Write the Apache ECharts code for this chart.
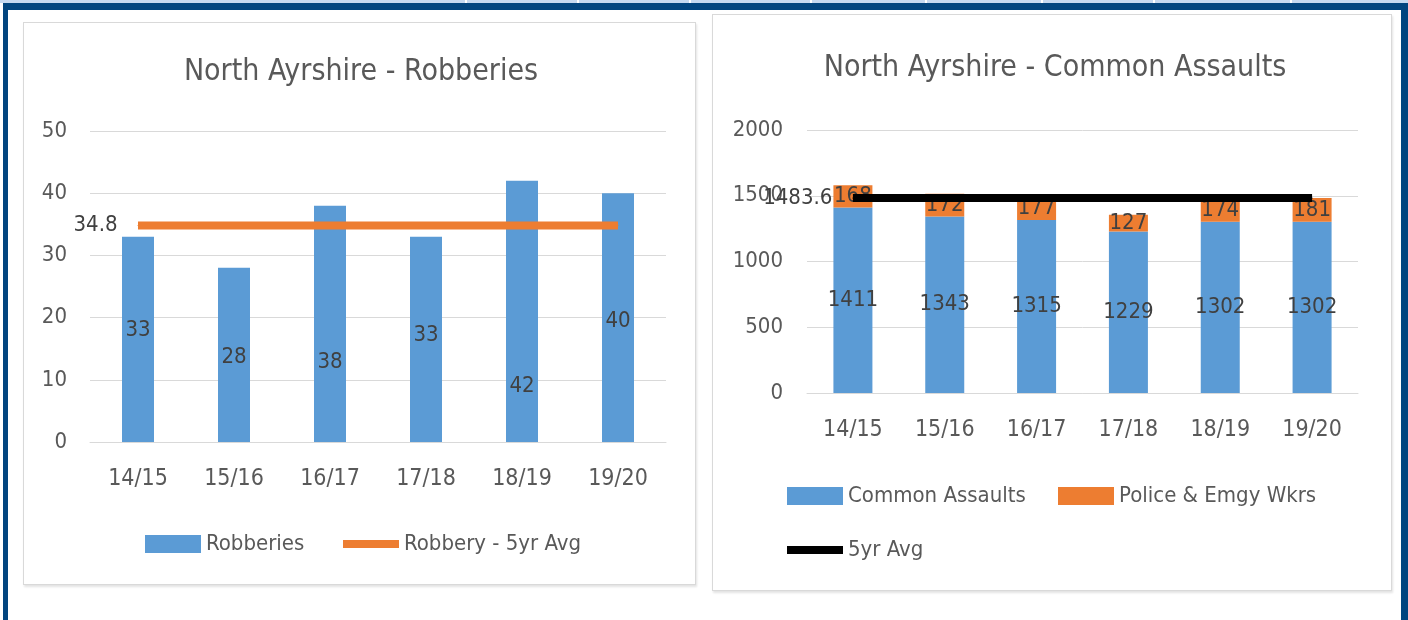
<!DOCTYPE html>
<html>
<head>
<meta charset="utf-8">
<script src="https://cdn.jsdelivr.net/npm/echarts@6/dist/echarts.min.js"></script>
<style>
  html, body { margin:0; padding:0; background:#fff; }
  #wrap { position:relative; width:1408px; height:620px; overflow:hidden; background:#fff; }
  .abs { position:absolute; }
  #chart { position:absolute; left:0; top:0; width:1408px; height:620px; }
</style>
</head>
<body>
<div id="wrap">
  <div class="abs" style="left:0;top:0;width:1408px;height:3px;background:#c6d9f0;"></div>
  <div class="abs" style="left:465px;top:0;width:2px;height:3px;background:#fff;"></div>
  <div class="abs" style="left:577px;top:0;width:2px;height:3px;background:#fff;"></div>
  <div class="abs" style="left:689px;top:0;width:2px;height:3px;background:#fff;"></div>
  <div class="abs" style="left:810px;top:0;width:2px;height:3px;background:#fff;"></div>
  <div class="abs" style="left:925px;top:0;width:2px;height:3px;background:#fff;"></div>
  <div class="abs" style="left:1041px;top:0;width:2px;height:3px;background:#fff;"></div>
  <div class="abs" style="left:1153px;top:0;width:2px;height:3px;background:#fff;"></div>
  <div class="abs" style="left:1290px;top:0;width:2px;height:3px;background:#fff;"></div>
  <div class="abs" style="left:3px;top:3px;width:1405px;height:7px;background:#02457f;"></div>
  <div class="abs" style="left:3px;top:3px;width:5px;height:617px;background:#02457f;"></div>
  <div class="abs" style="left:1401px;top:3px;width:7px;height:617px;background:#02457f;"></div>
  <div class="abs" style="left:23px;top:22px;width:671px;height:561px;border:1px solid #d9d9d9;box-shadow:1px 2px 2px #e4e4e4;"></div>
  <div class="abs" style="left:712px;top:14px;width:678px;height:575px;border:1px solid #d9d9d9;box-shadow:1px 2px 2px #e4e4e4;"></div>
  <div id="chart"></div>
</div>
<script>
const categories = ['14/15', '15/16', '16/17', '17/18', '18/19', '19/20'];
const robberies = [33, 28, 38, 33, 42, 40];
const robberyAvg = [34.8, 34.8, 34.8, 34.8, 34.8, 34.8];
const commonAssaults = [1411, 1343, 1315, 1229, 1302, 1302];
const policeEmgy = [168, 172, 177, 127, 174, 181];
const assaultAvg = [1483.6, 1483.6, 1483.6, 1483.6, 1483.6, 1483.6];
const leftTicks = [0, 10, 20, 30, 40, 50];
const rightTicks = [0, 500, 1000, 1500, 2000];

// vertical nudges of the robbery data labels (as placed in the original)
const robberyLabelNudge = [-9, 2, 38, -4, 75, 4];

const FONT = "'Liberation Sans Narrow', 'DejaVu Sans Condensed', 'Liberation Sans', sans-serif";
const GREY = '#595959';
const LBL = '#404040';
const BLUE = '#5B9BD5';
const ORANGE = '#ED7D31';

const chart = echarts.init(document.getElementById('chart'), null, { renderer: 'canvas' });

function yAxis(idx, max, interval, margin) {
  return {
    type: 'value', gridIndex: idx, min: 0, max: max, interval: interval,
    axisLine: { show: false }, axisTick: { show: false },
    axisLabel: { color: GREY, fontFamily: FONT, fontSize: 22, margin: margin, formatter: v => String(v) },
    splitLine: { lineStyle: { color: '#d9d9d9', width: 1 } }
  };
}
function xAxis(idx, margin) {
  return {
    type: 'category', gridIndex: idx, data: categories,
    axisLine: { show: true, lineStyle: { color: '#d9d9d9' } }, axisTick: { show: false },
    axisLabel: { color: GREY, fontFamily: FONT, fontSize: 23, margin: margin }
  };
}
const lineIcon = 'path://M0,0H56V8H0Z';
const barIcon = 'path://M0,0H56V18H0Z';
function legend(name, left, top, icon) {
  return {
    data: [{ name: name, icon: icon }], left: left, top: top,
    itemWidth: 56, itemHeight: 18, itemGap: 0,
    textStyle: { color: GREY, fontFamily: FONT, fontSize: 22 }
  };
}

chart.setOption({
  animation: false,
  title: [
    { text: 'North Ayrshire - Robberies', left: 356, top: 52, textAlign: 'center',
      textStyle: { color: GREY, fontFamily: FONT, fontSize: 30, fontWeight: 'normal' } },
    { text: 'North Ayrshire - Common Assaults', left: 1050, top: 48, textAlign: 'center',
      textStyle: { color: GREY, fontFamily: FONT, fontSize: 30, fontWeight: 'normal' } }
  ],
  grid: [
    { left: 90, right: 742, top: 131, bottom: 178 },
    { left: 807, right: 50, top: 130, bottom: 227 }
  ],
  xAxis: [xAxis(0, 26), xAxis(1, 26)],
  yAxis: [yAxis(0, 50, 10, 23), yAxis(1, 2000, 500, 24)],
  legend: [
    legend('Robberies', 140, 528, barIcon),
    legend('Robbery - 5yr Avg', 338, 528, lineIcon),
    legend('Common Assaults', 782, 480, barIcon),
    legend('Police & Emgy Wkrs', 1053, 480, barIcon),
    legend('5yr Avg', 782, 534, lineIcon)
  ],
  series: [
    { name: 'Robberies', type: 'bar', xAxisIndex: 0, yAxisIndex: 0,
      data: robberies.map((v, i) => ({ value: v, label: { offset: [0, robberyLabelNudge[i]] } })),
      barWidth: 32, itemStyle: { color: BLUE },
      label: { show: true, position: 'inside', color: LBL, fontFamily: FONT, fontSize: 22 } },
    { name: 'Robbery - 5yr Avg', type: 'line', xAxisIndex: 0, yAxisIndex: 0, data: robberyAvg,
      symbol: 'circle', symbolSize: 1, itemStyle: { color: ORANGE },
      lineStyle: { color: ORANGE, width: 8 },
      label: { show: true, position: 'left', distance: 20, color: LBL, fontFamily: FONT, fontSize: 22,
        formatter: p => p.dataIndex === 0 ? String(p.value) : '' } },
    { name: 'Common Assaults', type: 'bar', stack: 'a', xAxisIndex: 1, yAxisIndex: 1, data: commonAssaults,
      barWidth: 39, itemStyle: { color: BLUE },
      label: { show: true, position: 'inside', color: LBL, fontFamily: FONT, fontSize: 22 } },
    { name: 'Police & Emgy Wkrs', type: 'bar', stack: 'a', xAxisIndex: 1, yAxisIndex: 1, data: policeEmgy,
      barWidth: 39, itemStyle: { color: ORANGE },
      label: { show: true, position: 'inside', color: LBL, fontFamily: FONT, fontSize: 22 } },
    { name: '5yr Avg', type: 'line', xAxisIndex: 1, yAxisIndex: 1, data: assaultAvg,
      symbol: 'circle', symbolSize: 1, itemStyle: { color: '#000' },
      lineStyle: { color: '#000', width: 8 }, z: 5,
      label: { show: true, position: 'left', distance: 20, color: LBL, fontFamily: FONT, fontSize: 22,
        formatter: p => p.dataIndex === 0 ? String(p.value) : '' } }
  ]
});
</script>
</body>
</html>
